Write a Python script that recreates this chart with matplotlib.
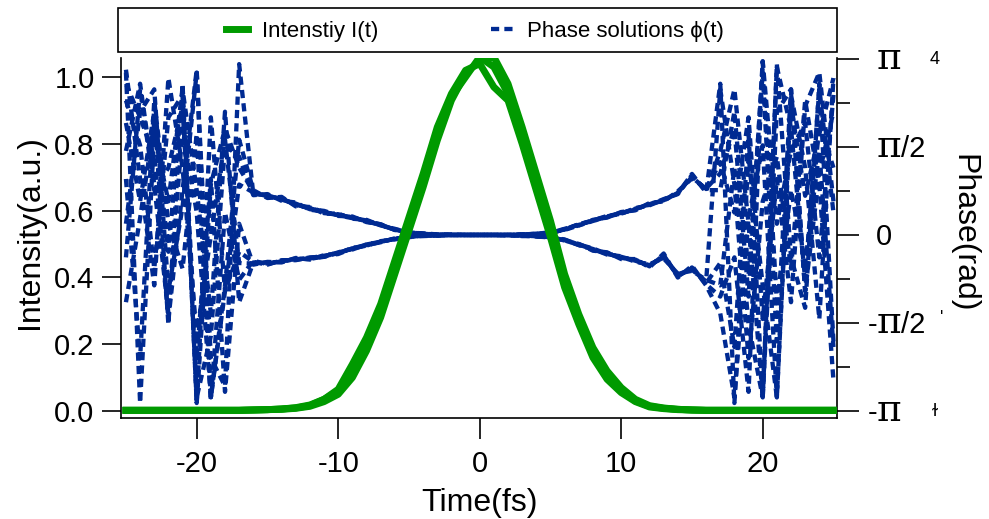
import numpy as np
import matplotlib.pyplot as plt
from matplotlib.patches import Rectangle
from matplotlib.lines import Line2D

plt.rcParams['font.family'] = ['Liberation Sans', 'DejaVu Sans']
plt.rcParams['axes.unicode_minus'] = False

green = '#009a00'
blue = '#002a92'

time_fs = np.arange(-25, 26)

# intensity retrievals (a.u.), t = -25 .. 25 fs
intensity_a = [0.002, 0.002, 0.002, 0.002, 0.002, 0.002, 0.002, 0.002, 0.002,
               0.003, 0.004, 0.006, 0.009, 0.016, 0.035, 0.06, 0.12, 0.20, 0.30, 0.43,
               0.56, 0.69, 0.83, 0.94, 1.00, 1.06, 1.03, 0.95, 0.82, 0.68, 0.54,
               0.38, 0.27, 0.17, 0.10, 0.06, 0.03, 0.014, 0.008, 0.005, 0.003,
               0.002, 0.002, 0.002, 0.002, 0.002, 0.002, 0.002, 0.002, 0.002, 0.002]
intensity_b = [0.002, 0.002, 0.002, 0.002, 0.002, 0.002, 0.002, 0.002, 0.002,
               0.003, 0.004, 0.005, 0.008, 0.014, 0.028, 0.05, 0.10, 0.18, 0.28, 0.41,
               0.54, 0.67, 0.81, 0.93, 1.01, 1.05, 1.06, 0.98, 0.85, 0.71, 0.57,
               0.41, 0.29, 0.19, 0.12, 0.07, 0.035, 0.016, 0.009, 0.005, 0.003,
               0.002, 0.002, 0.002, 0.002, 0.002, 0.002, 0.002, 0.002, 0.002, 0.002]
intensity_c = [0.002, 0.002, 0.002, 0.002, 0.002, 0.002, 0.002, 0.002, 0.002,
               0.003, 0.004, 0.006, 0.01, 0.018, 0.035, 0.065, 0.14, 0.22, 0.32, 0.45,
               0.58, 0.71, 0.85, 0.95, 1.02, 1.04, 0.97, 0.93, 0.80, 0.66, 0.52,
               0.37, 0.26, 0.16, 0.095, 0.055, 0.028, 0.012, 0.007, 0.004, 0.003,
               0.002, 0.002, 0.002, 0.002, 0.002, 0.002, 0.002, 0.002, 0.002, 0.002]

# phase solutions (rad), t = -25 .. 25 fs
phase_1 = [2.9, -3.0, 1.8, 0.6, 2.6, -3.0, 0.9, 1.9, 1.2,
           0.77, 0.68, 0.66, 0.53, 0.49, 0.41, 0.35, 0.32, 0.24, 0.18, 0.10, 0.05, 0.02, 0.01, 0.0, 0.0,
           0.0, 0.0, 0.0, -0.01, -0.02, -0.04, -0.10, -0.16, -0.27, -0.32, -0.41, -0.44, -0.56, -0.36, -0.74, -0.58, -0.88,
           -1.1, -0.4, -2.8, 3.1, -1.2, 0.8, -0.5, 1.5, -2.0]
phase_2 = [2.4, 1.6, -0.6, 2.1, 2.5, -2.9, -1.8, 1.6, 1.4,
           0.71, 0.73, 0.61, 0.58, 0.45, 0.42, 0.34, 0.33, 0.23, 0.19, 0.09, 0.05, 0.02, 0.01, 0.0, 0.0,
           0.0, 0.0, 0.0, -0.01, -0.03, -0.04, -0.08, -0.18, -0.25, -0.35, -0.38, -0.48, -0.52, -0.42, -0.69, -0.64, -0.80,
           -0.9, 1.2, -1.6, -2.9, 3.0, 1.9, -0.8, 2.6, 0.4]
phase_3 = [1.5, 2.7, 0.9, -1.4, 1.9, 0.4, -2.9, -0.9, 1.7,
           0.80, 0.66, 0.68, 0.51, 0.50, 0.38, 0.38, 0.29, 0.27, 0.17, 0.11, 0.04, 0.03, 0.01, 0.01, 0.0,
           0.0, 0.0, -0.01, -0.01, -0.02, -0.05, -0.09, -0.16, -0.28, -0.31, -0.43, -0.43, -0.58, -0.33, -0.76, -0.55, -0.90,
           -1.4, -2.9, 0.3, 1.6, -2.9, 2.5, 1.2, -1.5, 2.8]
phase_4 = [0.2, 2.2, 2.6, -1.0, 0.5, 2.9, -2.2, -2.7, 3.05,
           0.73, 0.71, 0.63, 0.56, 0.46, 0.43, 0.35, 0.30, 0.26, 0.17, 0.10, 0.03, 0.02, 0.0, 0.0, 0.0,
           0.0, 0.0, 0.0, -0.01, -0.02, -0.03, -0.10, -0.17, -0.24, -0.34, -0.39, -0.46, -0.54, -0.40, -0.70, -0.62, -0.83,
           2.6, 0.9, -2.2, 0.6, 1.4, -0.6, 2.4, 0.9, -2.6]
phase_5 = [2.0, 0.6, 2.2, -1.6, 2.7, -3.0, 2.1, -1.0, 0.9,
           0.76, 0.69, 0.65, 0.54, 0.48, 0.39, 0.37, 0.31, 0.25, 0.19, 0.09, 0.04, 0.01, 0.01, 0.0, 0.0,
           0.0, 0.0, 0.0, -0.02, -0.02, -0.04, -0.09, -0.18, -0.26, -0.33, -0.40, -0.45, -0.55, -0.38, -0.73, -0.59, -0.86,
           -0.5, -2.0, 1.8, -2.9, 2.2, 2.6, -1.0, 2.0, 1.2]
phase_6 = [2.7, 2.1, 1.4, -1.5, 0.8, 2.95, -2.9, -1.0, -0.3,
           -0.48, -0.53, -0.45, -0.45, -0.40, -0.39, -0.31, -0.25, -0.17, -0.12, -0.07, -0.03, -0.01, -0.01, 0.0, 0.0,
           0.0, 0.0, 0.0, 0.01, 0.02, 0.04, 0.10, 0.19, 0.25, 0.33, 0.38, 0.47, 0.54, 0.64, 0.73, 1.07, 0.78,
           1.5, 2.6, 0.2, -2.9, 3.05, -0.4, -1.3, 2.7, -1.9]
phase_7 = [-0.4, 2.6, 0.8, 1.2, 2.3, -2.2, 1.0, -2.8, 0.2,
           -0.53, -0.48, -0.49, -0.41, -0.44, -0.36, -0.33, -0.23, -0.19, -0.11, -0.08, -0.03, -0.02, -0.01, 0.0, 0.0,
           0.0, 0.0, 0.0, 0.01, 0.02, 0.05, 0.09, 0.17, 0.27, 0.31, 0.41, 0.44, 0.57, 0.60, 0.78, 1.01, 0.83,
           1.1, 1.9, -1.1, 3.1, 0.2, 1.5, 2.0, -0.4, 2.5]
phase_8 = [1.0, -2.2, 2.4, 0.2, -0.6, 1.8, -2.95, 0.4, -0.8,
           -0.46, -0.52, -0.46, -0.44, -0.41, -0.37, -0.34, -0.24, -0.18, -0.13, -0.06, -0.02, -0.01, 0.0, 0.0, 0.0,
           0.0, 0.0, 0.0, 0.01, 0.01, 0.04, 0.11, 0.18, 0.26, 0.34, 0.38, 0.48, 0.53, 0.63, 0.74, 1.09, 0.76,
           2.7, -3.0, 1.4, -0.9, -2.9, 2.3, 0.7, 1.8, 2.8]
phase_9 = [2.95, 1.0, -0.9, 2.8, 1.2, -1.8, 0.0, 1.7, -0.5,
           -0.51, -0.49, -0.48, -0.42, -0.43, -0.38, -0.31, -0.26, -0.17, -0.12, -0.07, -0.04, -0.01, -0.01, 0.0, 0.0,
           0.0, 0.0, 0.0, 0.0, 0.02, 0.03, 0.10, 0.17, 0.25, 0.32, 0.40, 0.45, 0.56, 0.61, 0.76, 1.03, 0.82,
           1.3, 0.4, 2.1, -1.5, 1.0, -1.2, 2.3, 2.9, 0.6]
phase_10 = [-1.2, 0.3, 2.0, -0.3, 2.6, 0.8, -1.4, 2.2, -1.2,
            -0.49, -0.51, -0.47, -0.43, -0.42, -0.39, -0.32, -0.24, -0.19, -0.12, -0.07, -0.03, -0.01, -0.01, 0.0, 0.0,
            0.0, 0.0, 0.0, 0.01, 0.02, 0.04, 0.10, 0.19, 0.26, 0.33, 0.39, 0.46, 0.55, 0.62, 0.75, 1.05, 0.80,
            0.8, 2.2, -0.7, 2.9, -1.9, 2.6, -1.0, 1.1, 2.2]

intensities = [intensity_a, intensity_b, intensity_c]
phases = [phase_1, phase_2, phase_3, phase_4, phase_5,
          phase_6, phase_7, phase_8, phase_9, phase_10]

W, H = 989, 519
fig = plt.figure(figsize=(W / 100, H / 100), dpi=100)
ax = fig.add_axes([121 / W, 1 - 418 / H, (837 - 121) / W, (418 - 58) / H])
ax2 = ax.twinx()

dash = (0, (1.9, 1.2))
for ph in phases:
    ax2.plot(time_fs, ph, color=blue, lw=3.1, ls=dash)
for inten in intensities:
    ax.plot(time_fs, inten, color=green, lw=5, solid_joinstyle='round')

ax.set_zorder(ax2.get_zorder() + 1)
ax.patch.set_visible(False)

ax.set_xlim(-25.35, 25.25)
ax.set_ylim(-0.021, 1.057)
ax2.set_ylim(-3.267, 3.159)

for a in (ax, ax2):
    a.spines['top'].set_visible(False)
    for s in a.spines.values():
        s.set_linewidth(1.2)
ax.spines['right'].set_visible(False)
ax2.spines['left'].set_visible(False)
ax2.spines['bottom'].set_visible(False)

ax.set_xticks([-20, -10, 0, 10, 20])
ax.set_yticks([0.0, 0.2, 0.4, 0.6, 0.8, 1.0])
ax.set_yticklabels(['0.0', '0.2', '0.4', '0.6', '0.8', '1.0'])
ax.tick_params(axis='y', direction='out', length=14, width=1.2, pad=5, labelsize=21)
ax.tick_params(axis='x', direction='out', length=15, width=1.2, pad=8, labelsize=21)

# right phase axis: ticks with hand-set pi labels
phase_ticks = [-np.pi, -np.pi / 2, 0, np.pi / 2, np.pi]
phase_labels = [('-', 'π', ''), ('-', 'π', '/2'), ('', '0', ''), ('', 'π', '/2'), ('', 'π', '')]
ax2.set_yticks(phase_ticks)
ax2.set_yticks([-3 * np.pi / 4, -np.pi / 4, np.pi / 4, 3 * np.pi / 4], minor=True)
ax2.tick_params(axis='y', which='major', direction='out', length=16, width=1.2, labelright=False)
ax2.tick_params(axis='y', which='minor', direction='out', length=9, width=1.2)

for yv, (sign, sym, tail) in zip(phase_ticks, phase_labels):
    kw = dict(xy=(1, yv), xycoords=('axes fraction', 'data'),
              textcoords='offset pixels', va='baseline', annotation_clip=False)
    if sign:
        ax2.annotate(sign, xytext=(40, -10), ha='right', fontsize=21, **kw)
    if sym == 'π':
        ax2.annotate(sym, xytext=(40, -10), ha='left', fontsize=27,
                     family='DejaVu Serif', **kw)
    else:
        ax2.annotate(sym, xytext=(39, -10), ha='left', fontsize=21, **kw)
    if tail:
        ax2.annotate(tail, xytext=(64, -10), ha='left', fontsize=21, **kw)

fig.text(479 / W, 1 - 503 / H, 'Time(fs)', fontsize=23, ha='center', va='center')
fig.text(30 / W, 1 - 232 / H, 'Intensity(a.u.)', fontsize=23, ha='center', va='center',
         rotation=90)
fig.text(963 / W, 1 - 233 / H, 'Phase(rad)', fontsize=23, ha='center', va='center',
         rotation=270)

# legend box across the top
fig.patches.append(Rectangle((118 / W, 1 - 52 / H), (837 - 118) / W, 44 / H,
                             transform=fig.transFigure, fill=False,
                             edgecolor='black', lw=1.2))
handles = [Line2D([], [], color=green, lw=5),
           Line2D([], [], color=blue, lw=3.1, ls=dash)]
fig.legend(handles, ['Intenstiy I(t)', 'Phase solutions ϕ(t)'],
           loc='center', bbox_to_anchor=(475 / W, 1 - 31 / H), ncol=2,
           frameon=False, fontsize=16, handlelength=1.0, columnspacing=5.1,
           handletextpad=0.6)

# stray label fragments at the right edge
fig.text(935 / W, 1 - 60 / H, '4', fontsize=13, ha='center', va='center')
fig.text(942 / W, 1 - 318 / H, "'", fontsize=13, ha='center', va='center')
fig.text(935 / W, 1 - 411 / H, 'ɫ', fontsize=13, ha='center', va='center')

fig.savefig('out.png', dpi=100)
